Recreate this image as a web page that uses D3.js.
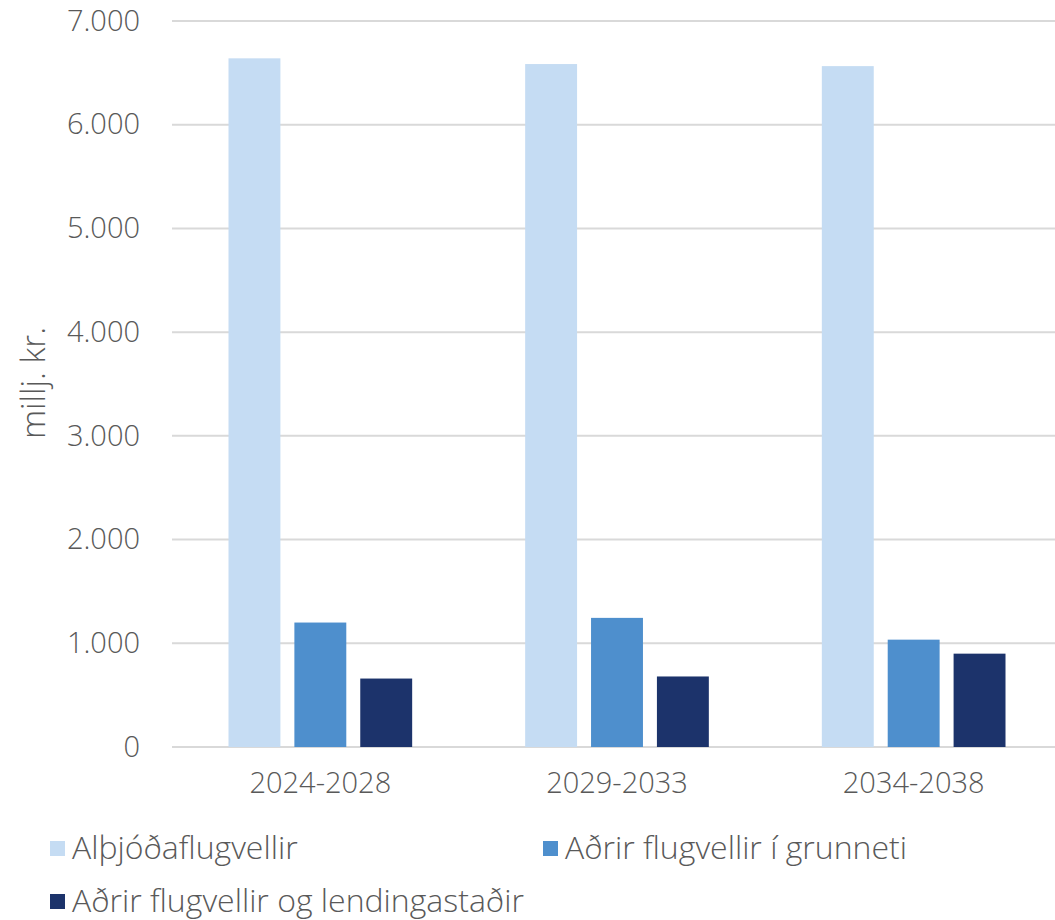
<!DOCTYPE html>
<html>
<head>
<meta charset="utf-8">
<script src="https://cdn.jsdelivr.net/npm/d3@7"></script>
<style>
  body { margin: 0; background: #fff; }
  text { font-family: "Open Sans", sans-serif; font-weight: 300; fill: #595959; }
</style>
</head>
<body>
<div id="chart"></div>
<script>
// data
const periods = ["2024-2028", "2029-2033", "2034-2038"];
const seriesNames = ["Alþjóðaflugvellir", "Aðrir flugvellir í grunneti", "Aðrir flugvellir og lendingastaðir"];
const alþjoda = [6640, 6585, 6565];
const grunnet = [1200, 1245, 1035];
const lending = [660, 680, 900];
const yTicks = [0, 1000, 2000, 3000, 4000, 5000, 6000, 7000];

const width = 1055, height = 920;
const margin = { top: 21, right: -7, bottom: 173, left: 172 };
const innerWidth = width - margin.left - margin.right,
      innerHeight = height - margin.top - margin.bottom;

const rows = periods.map((p, i) => ({ period: p, values: [alþjoda[i], grunnet[i], lending[i]] }));

const colors = d3.scaleOrdinal()
    .domain(seriesNames)
    .range(["#c5dcf3", "#4e8fcd", "#1c336b"]);

const xScale = d3.scaleBand()
    .domain(periods)
    .range([0, innerWidth])
    .paddingInner(0)
    .paddingOuter(0);

// bars inside a group: 52 wide, 14 gap
const xSub = d3.scaleBand()
    .domain(seriesNames)
    .range([56.5, xScale.bandwidth() - 56.5])
    .paddingInner(0.212);

const yScale = d3.scaleLinear()
    .domain([0, 7000])
    .range([innerHeight, 0]);

const fmt = d => d3.format(",")(d).replace(/,/g, ".");

const svg = d3.select("#chart")
    .append("svg")
    .attr("width", width)
    .attr("height", height);

const mainG = svg.append("g")
    .attr("transform", `translate(${margin.left},${margin.top})`);

// grid
mainG.append("g")
    .selectAll("line")
    .data(yTicks)
    .enter()
    .append("line")
    .attr("x1", 0)
    .attr("x2", innerWidth)
    .attr("y1", d => yScale(d))
    .attr("y2", d => yScale(d))
    .attr("stroke", "#d9d9d9")
    .attr("stroke-width", 2);

// y axis
const yAxis = d3.axisLeft(yScale).tickValues(yTicks).tickFormat(fmt).tickSize(0).tickPadding(32);
const yG = mainG.append("g").call(yAxis);
yG.select(".domain").remove();
yG.selectAll("text").style("font-size", "29px");

// x axis
const xAxis = d3.axisBottom(xScale).tickSize(0).tickPadding(25);
const xG = mainG.append("g")
    .attr("transform", `translate(0,${innerHeight})`)
    .call(xAxis);
xG.select(".domain").remove();
xG.selectAll("text").style("font-size", "29px");

// bars
const groups = mainG.selectAll(".grp")
    .data(rows)
    .enter()
    .append("g")
    .attr("class", "grp")
    .attr("transform", d => `translate(${xScale(d.period)},0)`);

groups.selectAll("rect")
    .data(d => d.values.map((v, i) => ({ key: seriesNames[i], value: v })))
    .enter()
    .append("rect")
    .attr("x", d => xSub(d.key))
    .attr("width", xSub.bandwidth())
    .attr("y", d => yScale(d.value))
    .attr("height", d => yScale(0) - yScale(d.value))
    .attr("fill", d => colors(d.key));

// y title
svg.append("text")
    .attr("transform", `translate(45,383) rotate(-90)`)
    .attr("text-anchor", "middle")
    .style("font-size", "33px")
    .text("millj. kr.");

// legend
const legendPos = [[50, 848], [543, 848], [50, 901]];
const legend = svg.append("g")
    .selectAll("g")
    .data(seriesNames)
    .enter()
    .append("g")
    .attr("transform", (d, i) => `translate(${legendPos[i][0]},${legendPos[i][1]})`);

legend.append("rect")
    .attr("x", 0)
    .attr("y", -7)
    .attr("width", 15)
    .attr("height", 15)
    .attr("fill", d => colors(d));

legend.append("text")
    .attr("x", 22)
    .attr("y", 0)
    .attr("dy", "0.35em")
    .style("font-size", "32px")
    .text(d => d);
</script>
</body>
</html>
